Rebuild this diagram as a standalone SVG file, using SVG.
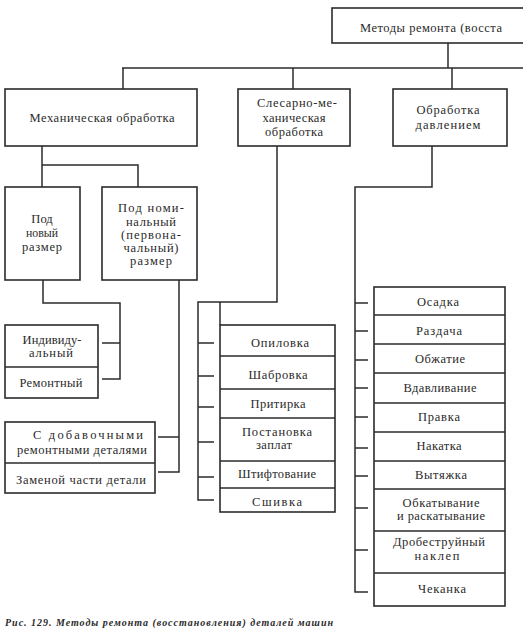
<svg xmlns="http://www.w3.org/2000/svg" width="523" height="628" viewBox="0 0 523 628">
<style>
.b{fill:none;stroke:#2b2b2b;stroke-width:1.6}
.c line,.c polyline{fill:none;stroke:#2b2b2b;stroke-width:1.5}
text{font-family:"Liberation Serif","DejaVu Serif",serif;font-size:12.5px;fill:#2a2a2a;text-anchor:middle}
.cap{font-style:italic;font-weight:bold;font-size:10px;text-anchor:start}
</style>
<rect width="523" height="628" fill="#ffffff"/>

<g class="c" id="connectors">
<line x1="448" y1="43" x2="448" y2="68"/>
<line x1="122" y1="68" x2="523" y2="68"/>
<line x1="123" y1="68" x2="123" y2="89"/>
<line x1="293" y1="68" x2="293" y2="89"/>
<line x1="452" y1="68" x2="452" y2="89"/>
<!-- mechanical -->
<line x1="42" y1="146" x2="42" y2="187"/>
<polyline points="42,165 138,165 138,187"/>
<polyline points="43,280 43,303 120,303 120,379 102,379"/>
<line x1="102" y1="343" x2="120" y2="343"/>
<polyline points="179,280 179,472 158,472"/>
<line x1="158" y1="437" x2="179" y2="437"/>
<!-- slesarno -->
<polyline points="277,146 277,302 198,302 198,500 214,500"/>
<line x1="220" y1="302" x2="220" y2="325"/>
<line x1="198" y1="343" x2="214" y2="343"/>
<line x1="198" y1="376" x2="214" y2="376"/>
<line x1="198" y1="407" x2="214" y2="407"/>
<line x1="198" y1="442" x2="214" y2="442"/>
<line x1="198" y1="477" x2="214" y2="477"/>
<!-- pressure -->
<polyline points="432,146 432,187 355,187 355,592 368,592"/>
<line x1="355" y1="303" x2="368" y2="303"/>
<line x1="355" y1="331" x2="368" y2="331"/>
<line x1="355" y1="360" x2="368" y2="360"/>
<line x1="355" y1="388" x2="368" y2="388"/>
<line x1="355" y1="417" x2="368" y2="417"/>
<line x1="355" y1="448" x2="368" y2="448"/>
<line x1="355" y1="476" x2="368" y2="476"/>
<line x1="355" y1="508" x2="368" y2="508"/>
<line x1="355" y1="550" x2="368" y2="550"/>
</g>

<g id="root">
<rect class="b" x="332" y="8" width="200" height="35"/>
<text x="431" y="32" textLength="142" lengthAdjust="spacing">Методы ремонта (восста</text>
</g>

<g id="mech">
<rect class="b" x="5" y="89" width="192" height="57"/>
<text x="102" y="122" textLength="145" lengthAdjust="spacing">Механическая обработка</text>
</g>

<g id="slesarno">
<rect class="b" x="238" y="89" width="112" height="57"/>
<text x="297" y="107" textLength="80" lengthAdjust="spacing">Слесарно-ме-</text>
<text x="294" y="122" textLength="63" lengthAdjust="spacing">ханическая</text>
<text x="294" y="136" textLength="58" lengthAdjust="spacing">обработка</text>
</g>

<g id="davlenie">
<rect class="b" x="393" y="89" width="114" height="57"/>
<text x="448" y="114" textLength="63" lengthAdjust="spacing">Обработка</text>
<text x="448" y="129" textLength="65" lengthAdjust="spacing">давлением</text>
</g>

<g id="pod-novy">
<rect class="b" x="5" y="187" width="75" height="93"/>
<text x="42" y="223">Под</text>
<text x="42" y="237" textLength="32" lengthAdjust="spacingAndGlyphs">новый</text>
<text x="42" y="251" textLength="40" lengthAdjust="spacing">размер</text>
</g>

<g id="pod-nomin">
<rect class="b" x="102" y="187" width="95" height="93"/>
<text x="151" y="212" textLength="66" lengthAdjust="spacing">Под номи-</text>
<text x="151" y="226" textLength="50" lengthAdjust="spacing">нальный</text>
<text x="151" y="239" textLength="60" lengthAdjust="spacing">(первона-</text>
<text x="151" y="252" textLength="55" lengthAdjust="spacing">чальный)</text>
<text x="151" y="265" textLength="42" lengthAdjust="spacing">размер</text>
</g>

<g id="individ-remont">
<rect class="b" x="5" y="325" width="93" height="73"/>
<line class="b" x1="5" y1="367" x2="98" y2="367"/>
<text x="52" y="344" textLength="59" lengthAdjust="spacing">Индивиду-</text>
<text x="51" y="357" textLength="44" lengthAdjust="spacing">альный</text>
<text x="51" y="387" textLength="63" lengthAdjust="spacing">Ремонтный</text>
</g>

<g id="dobav-zamena">
<rect class="b" x="5" y="422" width="150" height="71"/>
<line class="b" x1="5" y1="463" x2="155" y2="463"/>
<text x="88" y="439" textLength="110" lengthAdjust="spacing">С добавочными</text>
<text x="82" y="454" textLength="130" lengthAdjust="spacing">ремонтными деталями</text>
<text x="81" y="484" textLength="130" lengthAdjust="spacing">Заменой части детали</text>
</g>

<g id="slesarno-list">
<rect class="b" x="220" y="325" width="115" height="187"/>
<line class="b" x1="220" y1="356" x2="335" y2="356"/>
<line class="b" x1="220" y1="389" x2="335" y2="389"/>
<line class="b" x1="220" y1="418" x2="335" y2="418"/>
<line class="b" x1="220" y1="461" x2="335" y2="461"/>
<line class="b" x1="220" y1="488" x2="335" y2="488"/>
<text x="280" y="347" textLength="58" lengthAdjust="spacing">Опиловка</text>
<text x="278" y="379" textLength="59" lengthAdjust="spacing">Шабровка</text>
<text x="278" y="408" textLength="55" lengthAdjust="spacing">Притирка</text>
<text x="277" y="436" textLength="70" lengthAdjust="spacing">Постановка</text>
<text x="274" y="449" textLength="36" lengthAdjust="spacing">заплат</text>
<text x="277" y="478" textLength="78" lengthAdjust="spacing">Штифтование</text>
<text x="277" y="506" textLength="50" lengthAdjust="spacing">Сшивка</text>
</g>

<g id="davlenie-list">
<rect class="b" x="374" y="287" width="131" height="319"/>
<line class="b" x1="374" y1="315" x2="505" y2="315"/>
<line class="b" x1="374" y1="344" x2="505" y2="344"/>
<line class="b" x1="374" y1="373" x2="505" y2="373"/>
<line class="b" x1="374" y1="403" x2="505" y2="403"/>
<line class="b" x1="374" y1="432" x2="505" y2="432"/>
<line class="b" x1="374" y1="461" x2="505" y2="461"/>
<line class="b" x1="374" y1="489" x2="505" y2="489"/>
<line class="b" x1="374" y1="531" x2="505" y2="531"/>
<line class="b" x1="374" y1="573" x2="505" y2="573"/>
<text x="438" y="306" textLength="42" lengthAdjust="spacing">Осадка</text>
<text x="439" y="335" textLength="46" lengthAdjust="spacing">Раздача</text>
<text x="440" y="363" textLength="50" lengthAdjust="spacing">Обжатие</text>
<text x="440" y="392" textLength="73" lengthAdjust="spacing">Вдавливание</text>
<text x="439" y="421" textLength="42" lengthAdjust="spacing">Правка</text>
<text x="439" y="450" textLength="45" lengthAdjust="spacing">Накатка</text>
<text x="441" y="479" textLength="52" lengthAdjust="spacing">Вытяжка</text>
<text x="441" y="507" textLength="77" lengthAdjust="spacing">Обкатывание</text>
<text x="441" y="520" textLength="88" lengthAdjust="spacing">и раскатывание</text>
<text x="439" y="546" textLength="92" lengthAdjust="spacing">Дробеструйный</text>
<text x="437" y="560" textLength="45" lengthAdjust="spacing">наклеп</text>
<text x="442" y="593" textLength="48" lengthAdjust="spacing">Чеканка</text>
</g>

<text class="cap" x="5" y="626" textLength="328" lengthAdjust="spacing">Рис. 129. Методы ремонта (восстановления) деталей машин</text>
</svg>
